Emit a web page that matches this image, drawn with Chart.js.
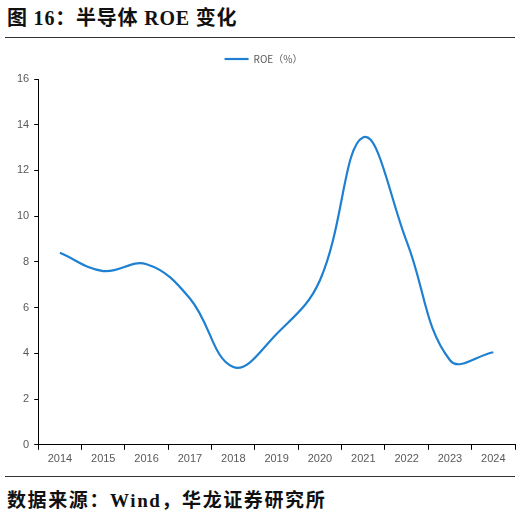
<!DOCTYPE html>
<html lang="zh">
<head>
  <meta charset="UTF-8" />
  <title>半导体 ROE 变化</title>
  <script src="https://cdn.jsdelivr.net/npm/chart.js"></script>
  <style>
    body {
      margin: 0;
      background: #fff;
      width: 521px;
      height: 516px;
      position: relative;
      overflow: hidden;
    }
    .title {
      position: absolute;
      left: 7px;
      top: 2px;
      font-family: "Liberation Serif", "Noto Sans CJK SC", serif;
      font-weight: bold;
      font-size: 20px;
      letter-spacing: 0.8px;
      color: #111;
    }
    .rule {
      position: absolute;
      left: 5px;
      right: 6px;
      height: 0;
      border-top: 1.5px solid #333;
    }
    .source {
      position: absolute;
      left: 7px;
      top: 485px;
      font-family: "Liberation Serif", "Noto Sans CJK SC", serif;
      font-weight: bold;
      font-size: 19px;
      letter-spacing: 1.6px;
      color: #111;
    }
    .chart-box {
      position: absolute;
      left: 0;
      top: 37px;
      width: 521px;
      height: 436px;
    }
  </style>
</head>
<body>
  <div class="title">图 16：半导体 ROE 变化</div>
  <div class="rule" style="top:37px"></div>
  <div class="chart-box"><canvas id="roeChart"></canvas></div>
  <div class="rule" style="top:476px"></div>
  <div class="source">数据来源：Wind，华龙证券研究所</div>

  <script>
    const years = ['2014', '2015', '2016', '2017', '2018', '2019', '2020', '2021', '2022', '2023', '2024'];
    const roe = [8.4, 7.6, 7.9, 6.4, 3.4, 4.85, 7.2, 13.45, 8.9, 3.7, 4.05];
    const yTicks = [0, 2, 4, 6, 8, 10, 12, 14, 16];

    const lineBlue = '#1f80d1';
    const tickGray = '#595959';

    // extra room under the legend
    const legendGap = {
      id: 'legendGap',
      beforeLayout(chart) {
        const lg = chart.legend;
        if (lg && !lg._gapPatched) {
          const fit = lg.fit.bind(lg);
          lg.fit = function () { fit(); this.height += 5; };
          lg._gapPatched = true;
        }
      }
    };

    new Chart(document.getElementById('roeChart').getContext('2d'), {
      type: 'line',
      data: {
        labels: years,
        datasets: [{
          label: 'ROE（%）',
          data: roe,
          borderColor: lineBlue,
          backgroundColor: lineBlue,
          borderWidth: 2.2,
          pointRadius: 0,
          tension: 0.4,
          fill: false
        }]
      },
      options: {
        responsive: true,
        maintainAspectRatio: false,
        animation: false,
        layout: { padding: { left: 12, right: 6, top: 7, bottom: 4 } },
        plugins: {
          tooltip: { enabled: false },
          legend: {
            position: 'top',
            labels: {
              usePointStyle: true,
              pointStyle: 'line',
              pointStyleWidth: 24,
              color: tickGray,
              font: { family: 'Noto Sans CJK SC', size: 10 },
              padding: 10
            }
          }
        },
        scales: {
          x: {
            offset: true,
            border: { display: true, color: '#000', width: 1 },
            grid: {
              offset: true,
              display: true,
              drawOnChartArea: false,
              drawTicks: true,
              tickLength: 5,
              color: '#000'
            },
            ticks: {
              color: tickGray,
              font: { family: 'Liberation Sans', size: 11 },
              padding: 3,
              maxRotation: 0
            }
          },
          y: {
            min: 0,
            max: 16,
            afterBuildTicks: axis => { axis.ticks = yTicks.map(v => ({ value: v })); },
            border: { display: true, color: '#000', width: 1 },
            grid: {
              display: true,
              drawOnChartArea: false,
              drawTicks: true,
              tickLength: 4,
              color: '#000'
            },
            ticks: {
              color: tickGray,
              font: { family: 'Liberation Sans', size: 11 },
              padding: 5
            }
          }
        }
      },
      plugins: [legendGap]
    });
  </script>
</body>
</html>
